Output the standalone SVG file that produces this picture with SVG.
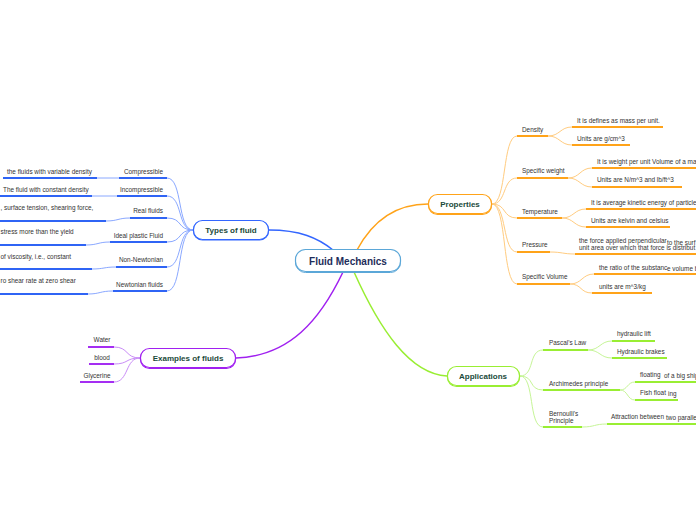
<svg xmlns="http://www.w3.org/2000/svg" width="696" height="520" viewBox="0 0 696 520">
<style>
text{font-family:"Liberation Sans",Arial,sans-serif;fill:#333}
.t{font-size:6.4px}
.m{font-size:8px;font-weight:bold;fill:#1b4a3a}
.c{font-size:10px;font-weight:bold;fill:#1e2d5a}
.ub{stroke:#2f64f5;stroke-width:2;fill:none}
.cb{stroke:#8aa8ff;stroke-width:1;fill:none}
.uo{stroke:#ffa319;stroke-width:2;fill:none}
.co{stroke:#ffcc80;stroke-width:1;fill:none}
.up{stroke:#a52ef2;stroke-width:2;fill:none}
.cp{stroke:#c98cf7;stroke-width:1;fill:none}
.ug{stroke:#99ee33;stroke-width:2;fill:none}
.cg{stroke:#c6f597;stroke-width:1;fill:none}
</style>
<rect width="696" height="520" fill="#fff"/>
<g id="connectors">
<path d="M269,230 C300,230 318,238 333,250" stroke="#3366ff" stroke-width="1.5" fill="none"/>
<path d="M357,250 C372,222 395,204 428,204" stroke="#ffa319" stroke-width="1.5" fill="none"/>
<path d="M343,272 C320,320 290,356 236,358" stroke="#a020f0" stroke-width="1.5" fill="none"/>
<path d="M354,272 C380,330 410,374 447,376" stroke="#99ee33" stroke-width="1.5" fill="none"/>
<path class="cb" d="M167,178 C183,178 177,230 193,230"/>
<path class="cb" d="M167,196 C183,196 177,230 193,230"/>
<path class="cb" d="M167,218 C183,218 177,230 193,230"/>
<path class="cb" d="M167,242 C183,242 177,230 193,230"/>
<path class="cb" d="M167,267 C183,267 177,230 193,230"/>
<path class="cb" d="M167,291 C183,291 177,230 193,230"/>
<path class="cb" d="M97,178 L119,178"/>
<path class="cb" d="M92,196 L117,196"/>
<path class="cb" d="M106,221 C118,221 118,218 130,218"/>
<path class="cb" d="M86,245 C98,245 98,242 110,242"/>
<path class="cb" d="M92,269 C104,269 104,267 116,267"/>
<path class="cb" d="M88,294 C100,294 100,291 113,291"/>
<path class="cp" d="M140,358 C125,358 129,347 114,347"/>
<path class="cp" d="M140,358 C125,358 129,364 114,364"/>
<path class="cp" d="M140,358 C125,358 129,382 114,382"/>
<path class="co" d="M492,204 C507,204 502,136 517,136"/>
<path class="co" d="M492,204 C507,204 502,178 517,178"/>
<path class="co" d="M492,204 C507,204 502,218 517,218"/>
<path class="co" d="M492,204 C507,204 502,252 517,252"/>
<path class="co" d="M492,204 C507,204 502,284 517,284"/>
<path class="co" d="M548,136 C560,136 560,127 572,127"/>
<path class="co" d="M548,136 C560,136 560,145 572,145"/>
<path class="co" d="M568,178 C580,178 580,168 592,168"/>
<path class="co" d="M568,178 C580,178 580,187 592,187"/>
<path class="co" d="M562,218 C574,218 574,209 586,209"/>
<path class="co" d="M562,218 C574,218 574,227 586,227"/>
<path class="co" d="M550,252 C562,252 563,254 575,254"/>
<path class="co" d="M570,284 C582,284 582,274 594,274"/>
<path class="co" d="M570,284 C582,284 580,293 592,293"/>
<path class="cg" d="M520,376 C535,376 528,350 543,350"/>
<path class="cg" d="M520,376 C535,376 528,390 543,390"/>
<path class="cg" d="M520,376 C535,376 528,427 543,427"/>
<path class="cg" d="M588,350 C600,350 600,341 612,341"/>
<path class="cg" d="M588,350 C600,350 600,358 612,358"/>
<path class="cg" d="M620,390 C628,390 627,382 635,382"/>
<path class="cg" d="M620,390 C628,390 627,400 635,400"/>
<path class="cg" d="M582,427 C595,427 594,424 607,424"/>
</g>
<g id="center">
<rect x="295.5" y="250.5" width="105" height="22" rx="10" fill="none" stroke="#5ba7d8" stroke-width="1"/>
<rect x="295.5" y="249.5" width="105" height="22" rx="10" fill="#fff" stroke="#5ba7d8" stroke-width="1.2"/>
<text class="c" x="348" y="264.5" text-anchor="middle">Fluid Mechanics</text>
</g>
<g id="types">
<rect x="193.5" y="221" width="75" height="19" rx="9" fill="none" stroke="#3366ff" stroke-width="1.2"/>
<rect x="193.5" y="220.5" width="75" height="19" rx="9" fill="#fff" stroke="#3366ff" stroke-width="1.2"/>
<text class="m" x="231" y="233" text-anchor="middle">Types of fluid</text>
</g>
<g id="t-compressible"><path class="ub" d="M119,178 H167"/><text class="t" x="163" y="174" text-anchor="end">Compressible</text></g>
<g id="t-compressible-l"><path class="ub" d="M3,178 H97"/><text class="t" x="7" y="174">the fluids with variable density</text></g>
<g id="t-incompressible"><path class="ub" d="M117,196 H167"/><text class="t" x="163" y="192" text-anchor="end">Incompressible</text></g>
<g id="t-incompressible-l"><path class="ub" d="M0,196 H92"/><text class="t" x="3" y="192">The fluid with constant density</text></g>
<g id="t-real"><path class="ub" d="M130,218 H167"/><text class="t" x="163" y="213" text-anchor="end">Real fluids</text></g>
<g id="t-real-l"><path class="ub" d="M0,221 H106"/><text class="t" x="0.5" y="210">, surface tension, shearing force,</text></g>
<g id="t-ideal"><path class="ub" d="M110,242 H167"/><text class="t" x="163" y="238" text-anchor="end">Ideal plastic Fluid</text></g>
<g id="t-ideal-l"><path class="ub" d="M0,245 H86"/><text class="t" x="0.5" y="234">stress more than the yield</text></g>
<g id="t-nonnewt"><path class="ub" d="M116,267 H167"/><text class="t" x="163" y="262" text-anchor="end">Non-Newtonian</text></g>
<g id="t-nonnewt-l"><path class="ub" d="M0,269 H92"/><text class="t" x="0.5" y="259">of viscosity, i.e., constant</text></g>
<g id="t-newt"><path class="ub" d="M113,291 H167"/><text class="t" x="163" y="287" text-anchor="end">Newtonian fluids</text></g>
<g id="t-newt-l"><path class="ub" d="M0,294 H88"/><text class="t" x="0.5" y="283">ro shear rate at zero shear</text></g>
<g id="examples">
<rect x="140.5" y="349.5" width="95" height="19" rx="9" fill="none" stroke="#a020f0" stroke-width="1.2"/>
<rect x="140.5" y="348.5" width="95" height="19" rx="9" fill="#fff" stroke="#a020f0" stroke-width="1.2"/>
<text class="m" x="188" y="361" text-anchor="middle">Examples of fluids</text>
</g>
<g id="e-water"><path class="up" d="M88,347 H114"/><text class="t" x="102" y="342" text-anchor="middle">Water</text></g>
<g id="e-blood"><path class="up" d="M89,364 H114"/><text class="t" x="102" y="360" text-anchor="middle">blood</text></g>
<g id="e-glycerine"><path class="up" d="M80,382 H114"/><text class="t" x="97" y="378" text-anchor="middle">Glycerine</text></g>
<g id="properties">
<rect x="428.5" y="195.5" width="63" height="19" rx="9" fill="none" stroke="#ffa319" stroke-width="1.2"/>
<rect x="428.5" y="194.5" width="63" height="19" rx="9" fill="#fff" stroke="#ffa319" stroke-width="1.2"/>
<text class="m" x="460" y="207" text-anchor="middle">Properties</text>
</g>
<g id="p-density"><path class="uo" d="M517,136 H548"/><text class="t" x="522" y="132">Density</text></g>
<g id="p-density-1"><path class="uo" d="M572,127 H663"/><text class="t" x="577" y="123">It is defines as mass per unit.</text></g>
<g id="p-density-2"><path class="uo" d="M572,145 H630"/><text class="t" x="577" y="141">Units are g/cm^3</text></g>
<g id="p-sw"><path class="uo" d="M517,178 H568"/><text class="t" x="522" y="173">Specific weight</text></g>
<g id="p-sw-1"><path class="uo" d="M592,168 H696"/><text class="t" x="597" y="164">It is weight per unit Volume of a ma</text></g>
<g id="p-sw-2"><path class="uo" d="M592,187 H682"/><text class="t" x="597" y="182">Units are N/m^3 and lb/ft^3</text></g>
<g id="p-temp"><path class="uo" d="M517,218 H562"/><text class="t" x="522" y="214">Temperature</text></g>
<g id="p-temp-1"><path class="uo" d="M586,209 H696"/><text class="t" x="591" y="205">It is average kinetic energy of particle</text></g>
<g id="p-temp-2"><path class="uo" d="M586,227 H670"/><text class="t" x="591" y="223">Units are kelvin and celsius</text></g>
<g id="p-pressure"><path class="uo" d="M517,252 H550"/><text class="t" x="522" y="247">Pressure</text></g>
<g id="p-pressure-1"><path class="uo" d="M575,254 H696"/>
<text class="t" x="579" y="243">the force applied perpendicular</text>
<text class="t" x="667" y="244.5">to the surf</text>
<text class="t" x="579" y="250">unit area over which that force is distribut</text></g>
<g id="p-sv"><path class="uo" d="M517,284 H570"/><text class="t" x="522" y="279">Specific Volume</text></g>
<g id="p-sv-1"><path class="uo" d="M594,274 H696"/><text class="t" x="599" y="270">the ratio of the substanc</text><text class="t" x="667" y="271">e volume b</text></g>
<g id="p-sv-2"><path class="uo" d="M592,293 H652"/><text class="t" x="599" y="289">units are m^3/kg</text></g>
<g id="applications">
<rect x="447.5" y="367.5" width="72" height="19" rx="9" fill="none" stroke="#99ee33" stroke-width="1.2"/>
<rect x="447.5" y="366.5" width="72" height="19" rx="9" fill="#fff" stroke="#99ee33" stroke-width="1.2"/>
<text class="m" x="483" y="379" text-anchor="middle">Applications</text>
</g>
<g id="a-pascal"><path class="ug" d="M543,350 H588"/><text class="t" x="549" y="345">Pascal's Law</text></g>
<g id="a-pascal-1"><path class="ug" d="M612,341 H655"/><text class="t" x="617" y="336">hydraulic lift</text></g>
<g id="a-pascal-2"><path class="ug" d="M612,358 H667"/><text class="t" x="617" y="354">Hydraulic brakes</text></g>
<g id="a-arch"><path class="ug" d="M543,390 H620"/><text class="t" x="549" y="386">Archimedes principle</text></g>
<g id="a-arch-1"><path class="ug" d="M635,382 H696"/><text class="t" x="640" y="377">floating</text><text class="t" x="664" y="378">of a big ship</text></g>
<g id="a-arch-2"><path class="ug" d="M635,400 H678"/><text class="t" x="640" y="395">Fish float</text><text class="t" x="668" y="396">ing</text></g>
<g id="a-bern"><path class="ug" d="M543,427 H582"/><text class="t" x="549" y="416">Bernoulli's</text><text class="t" x="549" y="423">Principle</text></g>
<g id="a-bern-1"><path class="ug" d="M607,424 H696"/><text class="t" x="611" y="419">Attraction between</text><text class="t" x="666" y="420">two  paralle</text></g>
</svg>
